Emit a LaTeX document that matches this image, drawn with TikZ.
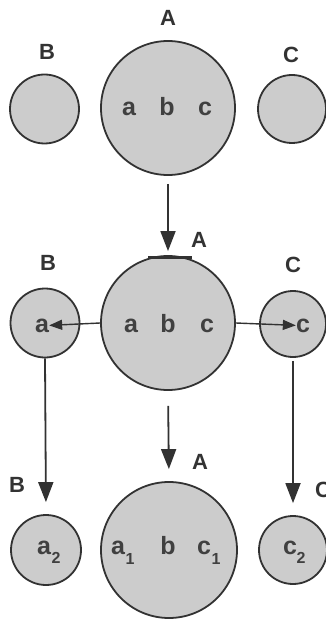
\documentclass[tikz,border=0pt]{standalone}
\usepackage{fontspec}
\setmainfont{Liberation Sans}
\usetikzlibrary{arrows.meta}
\definecolor{fillgray}{RGB}{204,204,204}
\definecolor{linegray}{RGB}{50,50,50}
\begin{document}
\begin{tikzpicture}[x=1pt,y=-1pt,
  circ/.style={circle,draw=linegray,line width=1.8pt,fill=fillgray,inner sep=0pt,minimum size=#1},
  lbl/.style={font=\fontsize{22}{22}\selectfont\bfseries,text=black!80,inner sep=0pt},
  ltr/.style={font=\fontsize{25}{25}\selectfont\bfseries,text=black!75,inner sep=0pt},
  sub/.style={font=\fontsize{16}{16}\selectfont\bfseries,text=black!75,inner sep=0pt},
  varrow/.style={draw=linegray,line width=1.8pt,-{Triangle[length=20pt,width=15pt]}},
  harrow/.style={draw=linegray,line width=1.4pt,-{Triangle[length=13pt,width=10pt]}}]
\useasboundingbox (0,0) rectangle (325,620);
% top row
\node[circ=134pt] (A1) at (168,108) {};
\node[circ=69pt] (B1) at (44.5,109) {};
\node[circ=68pt] (C1) at (292,109) {};
\node[lbl] (lA1) at (168,18) {A};
\node[lbl] (lB1) at (47,52) {B};
\node[lbl] (lC1) at (291,55) {C};
\node[ltr,anchor=base] (a1) at (129,116) {a};
\node[ltr,anchor=base] (b1) at (167,116) {b};
\node[ltr,anchor=base] (c1) at (205,116) {c};
% middle row
\node[circ=134pt] (A2) at (168,323) {};
\node[circ=69pt] (B2) at (45,323) {};
\node[circ=66pt] (C2) at (293,324) {};
\draw[linegray,line width=3pt] (148,257) -- (192,257);
\node[lbl] (lA2) at (199,240) {A};
\node[lbl] (lB2) at (48,263) {B};
\node[lbl] (lC2) at (293,265) {C};
\node[ltr,anchor=base] (a2) at (131,332) {a};
\node[ltr,anchor=base] (b2) at (168,332) {b};
\node[ltr,anchor=base] (c2) at (207,332) {c};
\node[ltr,anchor=base] (aa) at (42,332) {a};
\node[ltr,anchor=base] (cc) at (303,332) {c};
% bottom row
\node[circ=136pt] (A3) at (169,550) {};
\node[circ=70pt] (B3) at (46,550) {};
\node[circ=68pt] (C3) at (293,550) {};
\node[lbl] (lA3) at (200,462) {A};
\node[lbl] (lB3) at (17,485) {B};
\node[lbl,anchor=west] (lC3) at (315,490) {C};
\node[ltr,anchor=base] (a3) at (44,554) {a};
\node[sub,anchor=base] (s3) at (56,563) {2};
\node[ltr,anchor=base] (a31) at (118,554) {a};
\node[sub,anchor=base] (s31) at (130,564) {1};
\node[ltr,anchor=base] (b3) at (168,554) {b};
\node[ltr,anchor=base] (c31) at (204,554) {c};
\node[sub,anchor=base] (t31) at (216,564) {1};
\node[ltr,anchor=base] (c3) at (290,554) {c};
\node[sub,anchor=base] (t3) at (301,563) {2};
% arrows
\draw[varrow,shorten <=8pt,shorten >=4pt] (A1.south) -- (A2.north);
\draw[harrow] (A2.west) -- (aa.east);
\draw[harrow] (A2.east) -- (cc.west);
\draw[varrow,shorten >=12pt] (B2.south) -- (B3.north);
\draw[varrow,shorten <=3pt,shorten >=12pt] (C2.south) -- (C3.north);
\draw[varrow,shorten <=15pt,shorten >=12pt] (A2.south) -- (A3.north);
\end{tikzpicture}
\end{document}
